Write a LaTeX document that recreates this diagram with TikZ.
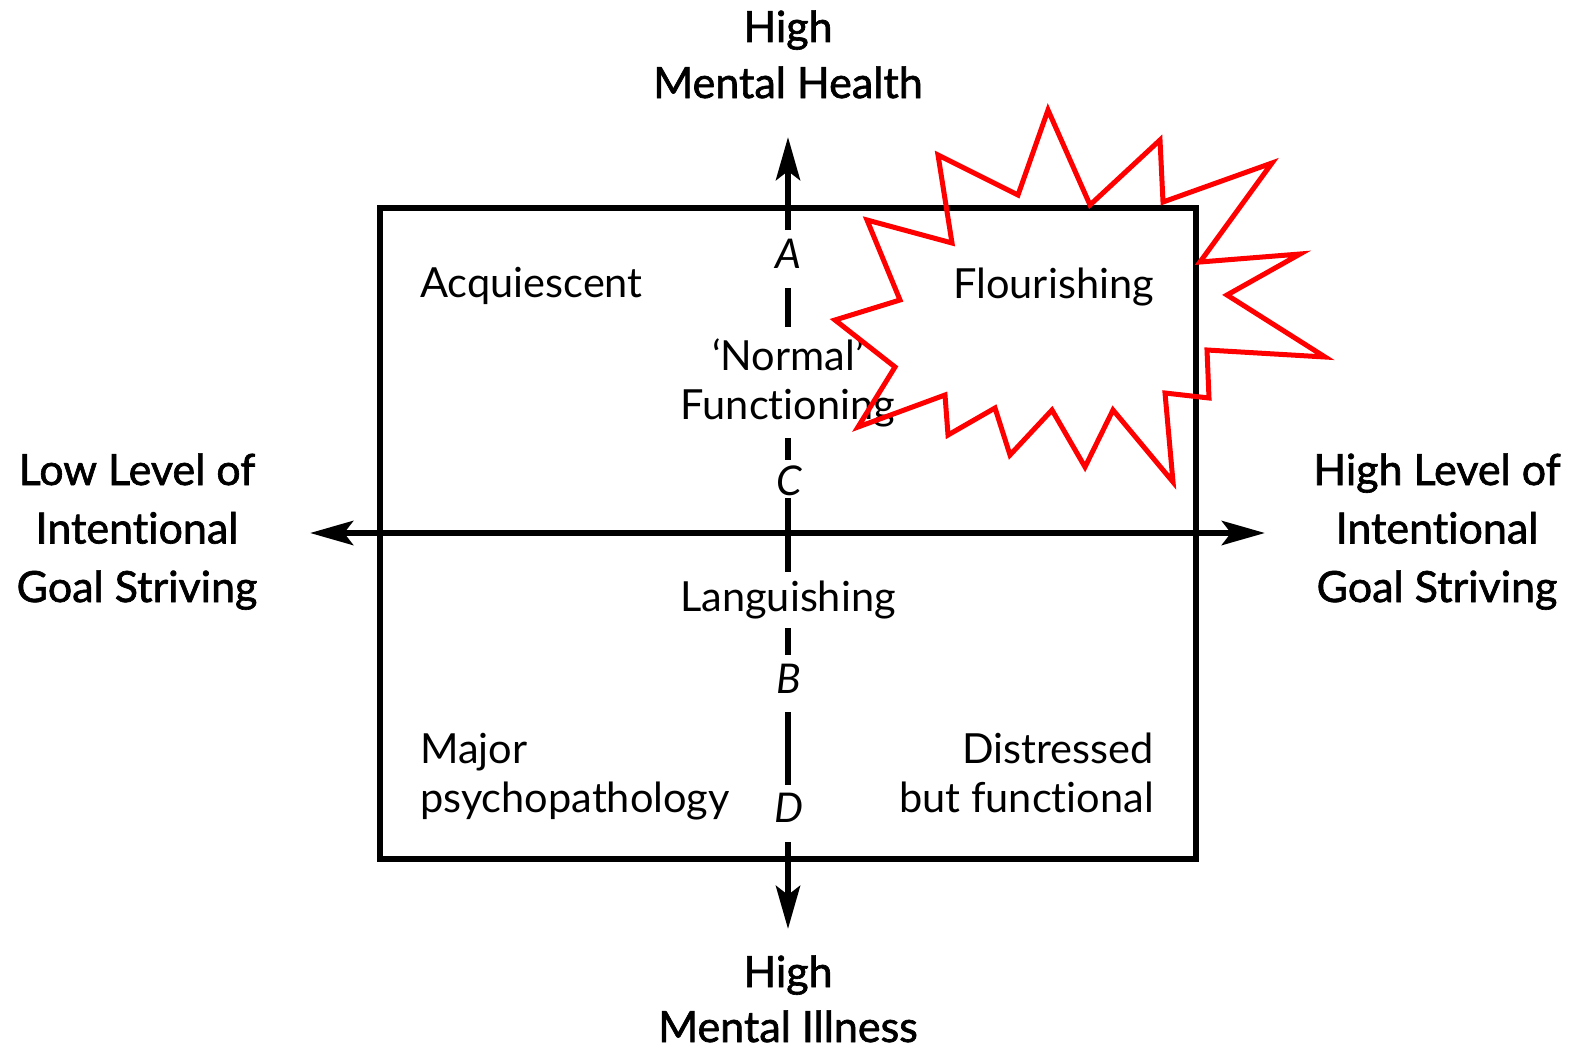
\documentclass[tikz,border=0pt]{standalone}
\usepackage{fontspec}
\setmainfont{Lato}[Ligatures={NoCommon}]
\newfontfamily\medfont{Lato}[FakeBold=1.5, Ligatures={NoCommon}]
\usetikzlibrary{arrows.meta}
\begin{document}
\begin{tikzpicture}[x=1pt,y=-1pt,
  axis/.style={line width=6.5pt, line cap=butt},
  tipend/.style={-{Stealth[length=43pt,width=24pt,inset=9pt]}},
  boxline/.style={line width=6pt},
  outer/.style={font=\medfont\fontsize{43}{57}\selectfont, align=center, inner sep=0pt, anchor=base},
  inner/.style={font=\fontsize{41.5}{49}\selectfont, inner sep=0pt},
  letter/.style={font=\itshape\fontsize{41}{48}\selectfont, inner sep=0pt, anchor=base},
  starline/.style={draw=red, line width=5pt, line join=miter, miter limit=20}]
\useasboundingbox (0,0) rectangle (1576,1049);

% frame
\draw[boxline] (380,208) rectangle (1196,859);

% horizontal axis
\coordinate (hl) at (310,533);
\coordinate (hr) at (1265,533);
\draw[axis, {Stealth[length=43pt,width=24pt,inset=9pt]}-{Stealth[length=43pt,width=24pt,inset=9pt]}] (hl) -- (hr);

% vertical axis pieces
\coordinate (vtop) at (788,137);
\coordinate (v1) at (788,230);
\coordinate (v2) at (788,288);
\coordinate (v3) at (788,327);
\coordinate (v4) at (788,438);
\coordinate (v5) at (788,460);
\coordinate (v6) at (788,498);
\coordinate (v7) at (788,572);
\coordinate (v8) at (788,628);
\coordinate (v9) at (788,655);
\coordinate (v10) at (788,712);
\coordinate (v11) at (788,785);
\coordinate (v12) at (788,842);
\coordinate (vbot) at (788,929);
\draw[axis, tipend] (v1) -- (vtop);
\draw[axis] (v2) -- (v3);
\draw[axis] (v4) -- (v5);
\draw[axis] (v6) -- (v7);
\draw[axis] (v8) -- (v9);
\draw[axis] (v10) -- (v11);
\draw[axis, tipend] (v12) -- (vbot);

% outer labels (anchor = baseline of last line)
\node[outer] (top) at (788,98) {High\\[-1pt]Mental Health};
\node[outer] (bottom) at (788,1042) {High\\[-2pt]Mental Illness};
\node[outer] (left) at (137,602) {Low Level of\\[1.5pt]Intentional\\[1.5pt]Goal Striving};
\node[outer] (right) at (1437,602) {High Level of\\[1.5pt]Intentional\\[1.5pt]Goal Striving};

% quadrant labels
\node[inner, anchor=base west] (acq) at (420,297) {Acquiescent};
\node[inner, anchor=base east] (flo) at (1154,298) {Flourishing};
\node[inner, anchor=base, align=center] (norm) at (788,419) {‘Normal’\\Functioning};
\node[inner, anchor=base] (lang) at (788,611) {Languishing};
\node[inner, anchor=base west, align=left] (maj) at (420,812) {Major\\psychopathology};
\node[inner, anchor=base east, align=right] (dis) at (1154,812) {Distressed\\but functional};

% axis letters
\node[letter] (A) at (788,268) {A};
\node[letter] (C) at (789,495) {C};
\node[letter] (B) at (789,693) {B};
\node[letter] (D) at (789,822) {D};

% starburst
\draw[starline] (1048,110) -- (1090,205) -- (1160,140) -- (1163,202) -- (1272,163)
  -- (1200,262) -- (1300,254) -- (1227,295) -- (1325,357) -- (1207,350)
  -- (1209,398) -- (1165,393) -- (1173,482) -- (1113,410) -- (1085,467)
  -- (1052,410) -- (1010,455) -- (995,408) -- (948,435) -- (945,395)
  -- (858,427) -- (895,367) -- (835,320) -- (900,300) -- (867,220)
  -- (952,243) -- (938,155) -- (1018,195) -- cycle;
\end{tikzpicture}
\end{document}
